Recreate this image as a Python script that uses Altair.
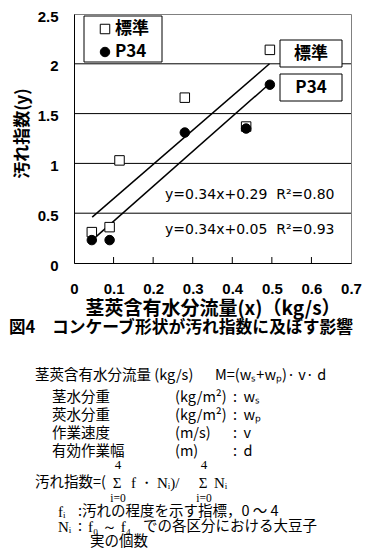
import altair as alt
import pandas as pd

# ---------------- data ----------------
series_names = ["標準", "P34"]
std_x = [0.045, 0.09, 0.115, 0.28, 0.435, 0.495]
std_y = [0.31, 0.36, 1.03, 1.66, 1.37, 2.14]
p34_x = [0.045, 0.09, 0.28, 0.435, 0.495]
p34_y = [0.23, 0.23, 1.31, 1.35, 1.79]
trend_x = [0.046, 0.494]
trend_std_y = [0.46, 2.00]
trend_p34_y = [0.23, 1.80]
eq_texts = ["y=0.34x+0.29\u00a0\u00a0R²=0.80", "y=0.34x+0.05\u00a0\u00a0R²=0.93"]
x_ticks = [0, 0.1, 0.2, 0.3, 0.4, 0.5, 0.6, 0.7]
y_ticks = [0, 0.5, 1, 1.5, 2, 2.5]
grid_vals = [0.5, 1, 1.5, 2]
inner_ticks = [0.1, 0.2, 0.3, 0.4, 0.5, 0.6]
x_title = "茎莢含有水分流量(x)（kg/s）"
y_title = "汚れ指数(y)"
caption_fig = "図4"
caption_text = "コンケーブ形状が汚れ指数に及ぼす影響"

note_rows = [
    "茎莢含有水分流量 (kg/s)", "M=(wₛ+wₚ)· v· d",
    "茎水分重", "(kg/m²)", ":\u00a0\u00a0wₛ",
    "莢水分重", "(kg/m²)", ":\u00a0\u00a0wₚ",
    "作業速度", "(m/s)", ":\u00a0\u00a0v",
    "有効作業幅", "(m)", ":\u00a0\u00a0d",
]
sigma_parts = ["汚れ指数=(", "Σ", "f\u2009・\u2009Nᵢ)/", "Σ", "Nᵢ", "4", "i=0"]
def_parts = ["fᵢ", ":汚れの程度を示す指標，0\u00a0～\u00a04",
             "Nᵢ", ":", "f₀\u00a0～\u00a0f₄", "での各区分における大豆子", "実の個数"]
legend_shapes = ["square", "circle"]
legend_fills = ["white", "black"]

# ---------------- layout ----------------
W, H = 277, 249
OX, OY = 74, 14          # plot origin on the page
JP = "Noto Sans CJK JP"
SERIF = "Liberation Serif"

pts = pd.DataFrame({
    "x": std_x + p34_x,
    "y": std_y + p34_y,
    "s": [series_names[0]] * len(std_x) + [series_names[1]] * len(p34_x),
})
trend = pd.DataFrame({
    "x": trend_x + trend_x,
    "y": trend_std_y + trend_p34_y,
    "s": [series_names[0]] * 2 + [series_names[1]] * 2,
})

xs = alt.Scale(domain=[0, 0.7], nice=False, zero=False)
ys = alt.Scale(domain=[0, 2.5], nice=False, zero=False)

x_axis = alt.Axis(values=x_ticks, format="~g", ticks=False, tickSize=0, grid=False,
                  labelOverlap=False, labelSeparation=0, labelFlush=False, labelBound=False,
                  domainColor="black", domainWidth=1, labelPadding=18,
                  labelFont="Liberation Sans", labelFontSize=15, labelFontWeight="bold",
                  labelColor="black", title=x_title, titleFont=JP, titleFontSize=19,
                  titleFontWeight="bold", titleColor="black", titleY=45,
                  titleBaseline="middle")
y_axis = alt.Axis(values=y_ticks, format="~g", ticks=False, tickSize=0, grid=False,
                  labelOverlap=False, labelFlush=False,
                  domainColor="black", domainWidth=1, labelPadding=16, labelOffset=2,
                  labelFont="Liberation Sans", labelFontSize=15, labelFontWeight="bold",
                  labelColor="black", title=y_title, titleFont=JP, titleFontSize=17,
                  titleFontWeight="bold", titleColor="black", titleX=-52, titleY=119,
                  titleBaseline="middle")


def X(field):
    return alt.X(field, scale=xs, axis=x_axis)


def Y(field):
    return alt.Y(field, scale=ys, axis=y_axis)


grid = alt.Chart(pd.DataFrame({"g": grid_vals})).mark_rule(color="black", strokeWidth=1).encode(
    y=Y("g:Q"))

ticks = alt.Chart(pd.DataFrame({"t": inner_ticks})).mark_rule(color="black", strokeWidth=1).encode(
    x=X("t:Q"),
    y=alt.YDatum(0, scale=ys, axis=y_axis),
    y2=alt.Y2Datum(0.06))

lines = alt.Chart(trend).mark_line(color="black", strokeWidth=1.5).encode(
    x=X("x:Q"), y=Y("y:Q"), detail="s:N")

points = alt.Chart(pts).mark_point(filled=True, stroke="black", strokeWidth=1,
                                   size=90, opacity=1).encode(
    x=X("x:Q"),
    y=Y("y:Q"),
    shape=alt.Shape("s:N", scale=alt.Scale(domain=series_names, range=legend_shapes),
                    legend=None),
    fill=alt.Fill("s:N", scale=alt.Scale(domain=series_names, range=legend_fills),
                  legend=None),
)


def box(x1, y1, x2, y2):
    return alt.Chart(pd.DataFrame({"a": [0]})).mark_rect(
        fill="white", stroke="black", strokeWidth=1).encode(
        x=alt.value(x1 - OX), x2=alt.value(x2 - OX),
        y=alt.value(y1 - OY), y2=alt.value(y2 - OY))


def txt(s, xa, ya, size, font=JP, weight="normal", align="left"):
    return alt.Chart(pd.DataFrame({"t": [s]})).mark_text(
        align=align, baseline="middle", font=font, fontSize=size,
        fontWeight=weight, color="black").encode(
        x=alt.value(xa - OX), y=alt.value(ya - OY), text="t:N")


def key_symbol(i, xa, ya):
    return alt.Chart(pd.DataFrame({"a": [0]})).mark_point(
        filled=True, stroke="black", strokeWidth=1, size=90, opacity=1,
        shape=legend_shapes[i], fill=legend_fills[i]).encode(
        x=alt.value(xa - OX), y=alt.value(ya - OY))


layers = [grid, ticks, lines, points,
          # legend (key)
          box(84, 16, 162, 62),
          key_symbol(0, 105, 29), key_symbol(1, 105, 52),
          txt(series_names[0], 115, 29, 17, weight="bold"),
          txt(series_names[1], 115, 52, 17, weight="bold"),
          # series labels
          box(280, 40, 342, 67), box(280, 74, 342, 101),
          txt(series_names[0], 311, 53.5, 17, weight="bold", align="center"),
          txt(series_names[1], 311, 87.5, 17, weight="bold", align="center"),
          txt(eq_texts[0], 165, 195, 14, font="DejaVu Sans"),
          txt(eq_texts[1], 165, 230, 14, font="DejaVu Sans"),
          txt(caption_fig, 9, 327.5, 16.5, weight="bold"),
          txt(caption_text, 52, 327.5, 16.8, weight="bold"),
          ]

NS = 14.5
# notes block
layers += [
    txt(note_rows[0], 35, 376, NS), txt(note_rows[1], 215, 376, NS),
]
row_y = [398, 416, 434, 452]
for i, yv in enumerate(row_y):
    layers += [txt(note_rows[2 + 3 * i], 52, yv, NS),
               txt(note_rows[3 + 3 * i], 175, yv, NS),
               txt(note_rows[4 + 3 * i], 233, yv, NS)]

layers += [
    txt(sigma_parts[0], 35, 483, NS),
    txt(sigma_parts[1], 117, 483, 15, font=SERIF, align="center"),
    txt(sigma_parts[2], 131, 483, 15, font=SERIF),
    txt(sigma_parts[3], 203, 483, 15, font=SERIF, align="center"),
    txt(sigma_parts[4], 214, 483, 15, font=SERIF),
    txt(sigma_parts[5], 118, 465, 13, font=SERIF, align="center"),
    txt(sigma_parts[5], 204, 465, 13, font=SERIF, align="center"),
    txt(sigma_parts[6], 118, 499, 11.5, font=SERIF, align="center"),
    txt(sigma_parts[6], 204, 499, 11.5, font=SERIF, align="center"),
    txt(def_parts[0], 58, 512, 15, font=SERIF),
    txt(def_parts[1], 78, 512, NS),
    txt(def_parts[2], 58, 527, 15, font=SERIF),
    txt(def_parts[3], 78, 527, NS),
    txt(def_parts[4], 88, 527, 15, font=SERIF),
    txt(def_parts[5], 143, 527, NS),
    txt(def_parts[6], 90, 542, NS),
]

chart = alt.layer(*layers).properties(
    width=W, height=H,
    padding={"left": OX - 8, "top": OY - 8, "right": 11, "bottom": 290},
    autosize="none",
).configure_view(stroke="#808080", strokeWidth=1)

chart.save("out.html", embed_options={"renderer": "svg", "actions": False})
